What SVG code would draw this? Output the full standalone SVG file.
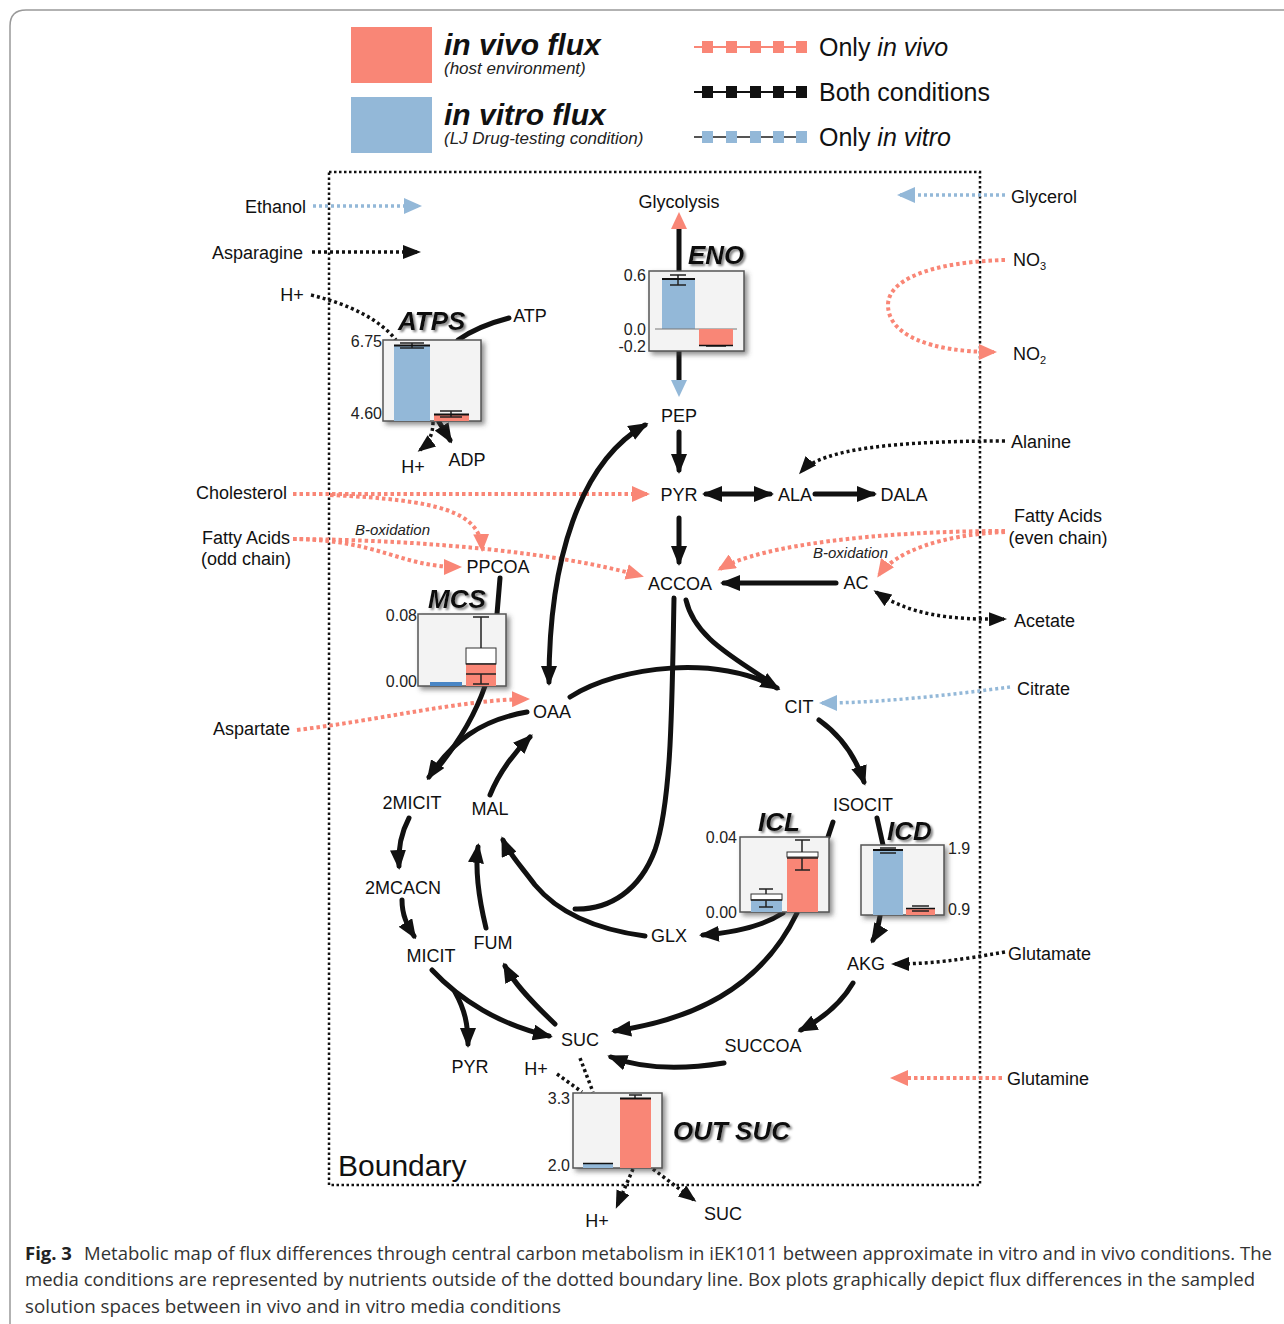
<svg xmlns="http://www.w3.org/2000/svg" width="1284" height="1324" viewBox="0 0 1284 1324">
<style>
.lbl{font-family:"Liberation Sans",Arial,sans-serif;font-size:18px;fill:#111}
.num{font-family:"Liberation Sans",Arial,sans-serif;font-size:16px;fill:#222}
.ttl{font-family:"Liberation Sans",Arial,sans-serif;font-size:26px;font-style:italic;font-weight:bold;fill:#111}
.thick{fill:none;stroke:#111;stroke-width:5;stroke-linecap:round}
.dk{fill:none;stroke:#111;stroke-width:3.5;stroke-dasharray:3 3}
.ds{fill:none;stroke:#F98676;stroke-width:4;stroke-dasharray:3.5 3}
.db{fill:none;stroke:#93B8D8;stroke-width:3.5;stroke-dasharray:3 3}
.box{fill:#F3F3F3;stroke:#555;stroke-width:1.5}
.bb{fill:#93B8D8}
.bs{fill:#F98676}
.wk{fill:none;stroke:#222;stroke-width:1.5}
.cap{font-family:"Open Sans","Liberation Sans",sans-serif;font-size:18.5px;fill:#333}
</style>
<defs>
<filter id="sh" x="-20%" y="-20%" width="150%" height="150%"><feDropShadow dx="3" dy="3" stdDeviation="2.5" flood-color="#444" flood-opacity="0.6"/></filter>
<filter id="tsh" x="-20%" y="-30%" width="150%" height="170%"><feDropShadow dx="2" dy="2" stdDeviation="1" flood-color="#777" flood-opacity="0.9"/></filter>
<marker id="ab" viewBox="0 0 20 16" refX="16" refY="8" markerWidth="20" markerHeight="16" markerUnits="userSpaceOnUse" orient="auto-start-reverse"><path d="M0,0 L20,8 L0,16 z" fill="#111"/></marker>
<marker id="ad" viewBox="0 0 18 14" refX="15" refY="7" markerWidth="18" markerHeight="14" markerUnits="userSpaceOnUse" orient="auto-start-reverse"><path d="M0,0 L18,7 L0,14 z" fill="#111"/></marker>
<marker id="as" viewBox="0 0 18 16" refX="15" refY="8" markerWidth="18" markerHeight="16" markerUnits="userSpaceOnUse" orient="auto-start-reverse"><path d="M0,0 L18,8 L0,16 z" fill="#F98676"/></marker>
<marker id="abl" viewBox="0 0 18 16" refX="15" refY="8" markerWidth="18" markerHeight="16" markerUnits="userSpaceOnUse" orient="auto-start-reverse"><path d="M0,0 L18,8 L0,16 z" fill="#93B8D8"/></marker>
</defs>
<rect width="1284" height="1324" fill="#fff"/>
<path d="M10,1324 V26 Q10,10 26,10 H1284" fill="none" stroke="#999" stroke-width="1.5"/>

<g id="legend">
<rect x="351" y="27" width="81" height="56" fill="#F98676"/>
<rect x="351" y="97" width="81" height="56" fill="#93B8D8"/>
<text x="444" y="55" style="font-family:'Liberation Sans',Arial,sans-serif;font-size:30px;font-weight:bold;font-style:italic" fill="#111">in vivo flux</text>
<text x="444" y="74" style="font-family:'Liberation Sans',Arial,sans-serif;font-size:17px;font-style:italic" fill="#222">(host environment)</text>
<text x="444" y="125" style="font-family:'Liberation Sans',Arial,sans-serif;font-size:30px;font-weight:bold;font-style:italic" fill="#111">in vitro flux</text>
<text x="444" y="144" style="font-family:'Liberation Sans',Arial,sans-serif;font-size:17px;font-style:italic" fill="#222">(LJ Drug-testing condition)</text>
<g fill="#F98676"><line x1="694" y1="47" x2="806" y2="47" stroke="#F98676" stroke-width="2"/><rect x="702" y="41" width="11" height="12"/><rect x="726" y="41" width="11" height="12"/><rect x="750" y="41" width="11" height="12"/><rect x="773" y="41" width="11" height="12"/><rect x="796" y="41" width="11" height="12"/></g>
<g fill="#111"><line x1="694" y1="92" x2="806" y2="92" stroke="#111" stroke-width="2"/><rect x="702" y="86" width="11" height="12"/><rect x="726" y="86" width="11" height="12"/><rect x="750" y="86" width="11" height="12"/><rect x="773" y="86" width="11" height="12"/><rect x="796" y="86" width="11" height="12"/></g>
<g fill="#93B8D8"><line x1="694" y1="137" x2="806" y2="137" stroke="#555" stroke-width="2"/><rect x="702" y="131" width="11" height="12"/><rect x="726" y="131" width="11" height="12"/><rect x="750" y="131" width="11" height="12"/><rect x="773" y="131" width="11" height="12"/><rect x="796" y="131" width="11" height="12"/></g>
<text x="819" y="56" style="font-family:'Liberation Sans',Arial,sans-serif;font-size:25px" fill="#111">Only <tspan font-style="italic">in vivo</tspan></text>
<text x="819" y="101" style="font-family:'Liberation Sans',Arial,sans-serif;font-size:25px" fill="#111">Both conditions</text>
<text x="819" y="146" style="font-family:'Liberation Sans',Arial,sans-serif;font-size:25px" fill="#111">Only <tspan font-style="italic">in vitro</tspan></text>
</g>

<g id="boundary">
<rect x="329" y="172" width="651" height="1013" fill="none" stroke="#111" stroke-width="2.5" stroke-dasharray="2.5 2.5"/>
<text x="338" y="1176" style="font-family:'Liberation Sans',Arial,sans-serif;font-size:30px" fill="#111">Boundary</text>
</g>

<g id="connectors">
<path class="db" d="M313,206 H419" marker-end="url(#abl)"/>
<path class="dk" d="M312,252 H418" marker-end="url(#ad)"/>
<path class="dk" d="M311,295 Q372,310 396,340"/>
<path class="db" d="M1005,195 H900" marker-end="url(#abl)"/>
<path class="ds" d="M1005,260 C930,262 888,280 888,305 C888,335 930,352 994,352" marker-end="url(#as)"/>
<path class="dk" d="M1005,441 C900,441 822,448 801,472" marker-end="url(#ad)"/>
<path class="ds" d="M293,494 H647" marker-end="url(#as)"/>
<path class="ds" d="M330,495 C440,500 480,512 482,549" marker-end="url(#as)"/>
<path class="ds" d="M293,539 C380,540 400,567 459,567" marker-end="url(#as)"/>
<path class="ds" d="M293,539 C430,540 560,553 641,576" marker-end="url(#as)"/>
<path class="ds" d="M1005,531 C880,531 760,545 720,569" marker-end="url(#as)"/>
<path class="ds" d="M1005,532 C940,535 895,552 879,575" marker-end="url(#as)"/>
<path class="dk" d="M876,592 C910,615 950,620 1004,619" marker-start="url(#ad)" marker-end="url(#ad)"/>
<path class="db" d="M1010,687 C950,695 880,703 822,703" marker-end="url(#abl)"/>
<path class="ds" d="M297,730 C380,720 460,700 527,699" marker-end="url(#as)"/>
<path class="dk" d="M1005,952 C960,960 930,964 894,964" marker-end="url(#ad)"/>
<path class="ds" d="M1002,1078 H893" marker-end="url(#as)"/>
<path class="thick" d="M509,318 Q478,326 458,340"/>
<path class="dk" d="M433,422 Q433,440 420,450" marker-end="url(#ad)"/>
<path class="thick" d="M439,422 L450,440" marker-end="url(#ab)"/>
<line x1="679" y1="228" x2="679" y2="271" stroke="#111" stroke-width="5"/>
<line x1="679" y1="351" x2="679" y2="381" stroke="#111" stroke-width="5"/>
<path d="M679,212 L671,229 L687,229 z" fill="#F98676"/>
<path d="M679,397 L671,380 L687,380 z" fill="#93B8D8"/>
<path class="thick" d="M679,432 V470" marker-end="url(#ab)"/>
<path class="thick" d="M706,494 H770" marker-start="url(#ab)" marker-end="url(#ab)"/>
<path class="thick" d="M815,494 H873" marker-end="url(#ab)"/>
<path class="thick" d="M679,518 V562" marker-end="url(#ab)"/>
<path class="thick" d="M836,583 H724" marker-end="url(#ab)"/>
<path class="thick" d="M549,682 C549,560 580,462 645,425" marker-start="url(#ab)" marker-end="url(#ab)"/>
<path class="thick" d="M570,697 C620,665 720,655 777,688" marker-end="url(#ab)"/>
<path class="thick" d="M686,600 C695,640 740,660 772,684"/>
<path class="thick" d="M674,598 C672,700 672,800 655,850 C640,890 610,910 575,909"/>
<path class="thick" d="M645,936 C600,930 560,915 535,885 C520,865 508,852 503,840" marker-end="url(#ab)"/>
<path class="thick" d="M490,795 C500,770 515,752 530,737" marker-end="url(#ab)"/>
<path class="thick" d="M527,712 C480,720 452,742 429,777" marker-end="url(#ab)"/>
<path class="thick" d="M485,686 C475,715 460,740 440,765"/>
<path class="thick" d="M500,578 L497,614"/>
<path class="thick" d="M409,818 C400,835 398,850 399,866" marker-end="url(#ab)"/>
<path class="thick" d="M402,900 C402,915 407,925 414,936" marker-end="url(#ab)"/>
<path class="thick" d="M432,970 C460,1000 500,1025 549,1036" marker-end="url(#ab)"/>
<path class="thick" d="M455,992 C465,1010 468,1025 468,1044" marker-end="url(#ab)"/>
<path class="thick" d="M555,1024 C535,1005 515,985 505,966" marker-end="url(#ab)"/>
<path class="thick" d="M486,928 C478,895 475,870 478,847" marker-end="url(#ab)"/>
<path class="thick" d="M819,720 C840,735 855,755 864,782" marker-end="url(#ab)"/>
<path class="thick" d="M833,822 L828,837"/>
<path class="thick" d="M877,818 L883,845"/>
<path class="thick" d="M783,913 C760,928 730,933 703,935" marker-end="url(#ab)"/>
<path class="thick" d="M797,913 C760,990 690,1020 615,1031" marker-end="url(#ab)"/>
<path class="thick" d="M880,916 C878,928 876,935 873,940" marker-end="url(#ab)"/>
<path class="thick" d="M853,983 C840,1005 820,1020 801,1030" marker-end="url(#ab)"/>
<path class="thick" d="M724,1063 C680,1070 640,1068 611,1057" marker-end="url(#ab)"/>
<path class="dk" d="M580,1058 L593,1092"/>
<path class="dk" d="M557,1074 L582,1092"/>
<path class="dk" d="M633,1169 L617,1206" marker-end="url(#ad)"/>
<path class="dk" d="M653,1169 L694,1200" marker-end="url(#ad)"/>
</g>

<g id="nutrients">
<text class="lbl" x="306" y="213" text-anchor="end">Ethanol</text>
<text class="lbl" x="303" y="259" text-anchor="end">Asparagine</text>
<text class="lbl" x="292" y="301" text-anchor="middle">H+</text>
<text class="lbl" x="287" y="499" text-anchor="end">Cholesterol</text>
<text class="lbl" x="246" y="544" text-anchor="middle">Fatty Acids</text>
<text class="lbl" x="246" y="565" text-anchor="middle">(odd chain)</text>
<text x="355" y="535" style="font-family:'Liberation Sans',Arial,sans-serif;font-size:15px;font-style:italic" fill="#222">B-oxidation</text>
<text class="lbl" x="290" y="735" text-anchor="end">Aspartate</text>
<text class="lbl" x="1011" y="203">Glycerol</text>
<text class="lbl" x="1013" y="266">NO<tspan font-size="11" dy="4">3</tspan></text>
<text class="lbl" x="1013" y="360">NO<tspan font-size="11" dy="4">2</tspan></text>
<text class="lbl" x="1011" y="448">Alanine</text>
<text class="lbl" x="1058" y="522" text-anchor="middle">Fatty Acids</text>
<text class="lbl" x="1058" y="544" text-anchor="middle">(even chain)</text>
<text x="813" y="558" style="font-family:'Liberation Sans',Arial,sans-serif;font-size:15px;font-style:italic" fill="#222">B-oxidation</text>
<text class="lbl" x="1014" y="627">Acetate</text>
<text class="lbl" x="1017" y="695">Citrate</text>
<text class="lbl" x="1008" y="960">Glutamate</text>
<text class="lbl" x="1007" y="1085">Glutamine</text>
</g>

<g id="metabolites" text-anchor="middle">
<text class="lbl" x="679" y="208">Glycolysis</text>
<text class="lbl" x="679" y="422">PEP</text>
<text class="lbl" x="679" y="501">PYR</text>
<text class="lbl" x="795" y="501">ALA</text>
<text class="lbl" x="904" y="501">DALA</text>
<text class="lbl" x="680" y="590">ACCOA</text>
<text class="lbl" x="856" y="589">AC</text>
<text class="lbl" x="498" y="573">PPCOA</text>
<text class="lbl" x="552" y="718">OAA</text>
<text class="lbl" x="799" y="713">CIT</text>
<text class="lbl" x="863" y="811">ISOCIT</text>
<text class="lbl" x="412" y="809">2MICIT</text>
<text class="lbl" x="490" y="815">MAL</text>
<text class="lbl" x="403" y="894">2MCACN</text>
<text class="lbl" x="431" y="962">MICIT</text>
<text class="lbl" x="493" y="949">FUM</text>
<text class="lbl" x="669" y="942">GLX</text>
<text class="lbl" x="866" y="970">AKG</text>
<text class="lbl" x="763" y="1052">SUCCOA</text>
<text class="lbl" x="580" y="1046">SUC</text>
<text class="lbl" x="470" y="1073">PYR</text>
<text class="lbl" x="536" y="1075">H+</text>
<text class="lbl" x="413" y="473">H+</text>
<text class="lbl" x="467" y="466">ADP</text>
<text class="lbl" x="530" y="322">ATP</text>
<text class="lbl" x="597" y="1227">H+</text>
<text class="lbl" x="723" y="1220">SUC</text>
</g>

<g id="ATPS">
<rect class="box" x="383" y="340" width="98" height="81" filter="url(#sh)"/>
<rect class="bb" x="394" y="345" width="36" height="76"/>
<rect class="bs" x="434" y="414" width="35" height="7"/>
<path class="wk" d="M400,343 H424 M400,348 H424 M412,343 V348 M440,411 H462 M440,417 H462 M451,411 V417"/>
<line x1="394" y1="345.5" x2="430" y2="345.5" stroke="#111" stroke-width="2"/>
<line x1="434" y1="414.5" x2="469" y2="414.5" stroke="#111" stroke-width="2"/>
<text class="ttl" x="398" y="330" filter="url(#tsh)">ATPS</text>
<text class="num" x="382" y="347" text-anchor="end">6.75</text>
<text class="num" x="382" y="419" text-anchor="end">4.60</text>
</g>

<g id="ENO">
<rect class="box" x="649" y="271" width="95" height="80" filter="url(#sh)"/>
<rect class="bb" x="662" y="278" width="33" height="51"/>
<line x1="655" y1="329" x2="737" y2="329" stroke="#777" stroke-width="1"/>
<rect class="bs" x="699" y="329" width="34" height="17"/>
<path class="wk" d="M670,275 H686 M670,285 H686 M678,275 V285 M706,346 H726"/>
<line x1="662" y1="279" x2="695" y2="279" stroke="#111" stroke-width="2"/>
<line x1="699" y1="345.5" x2="733" y2="345.5" stroke="#111" stroke-width="1.5"/>
<text class="ttl" x="688" y="264" filter="url(#tsh)">ENO</text>
<text class="num" x="646" y="281" text-anchor="end">0.6</text>
<text class="num" x="646" y="335" text-anchor="end">0.0</text>
<text class="num" x="646" y="352" text-anchor="end">-0.2</text>
</g>

<g id="MCS">
<rect class="box" x="418" y="614" width="88" height="72" filter="url(#sh)"/>
<rect x="430" y="682" width="32" height="4" fill="#4A86C5"/>
<rect x="466" y="648" width="30" height="16" fill="#fff" stroke="#333" stroke-width="1"/>
<rect class="bs" x="466" y="664" width="30" height="22"/>
<path class="wk" d="M473,617 H489 M481,617 V648 M466,664 H496 M466,674 H496 M481,674 V684 M473,684 H489"/>
<text class="ttl" x="428" y="608" filter="url(#tsh)">MCS</text>
<text class="num" x="417" y="621" text-anchor="end">0.08</text>
<text class="num" x="417" y="687" text-anchor="end">0.00</text>
</g>

<g id="ICL">
<rect class="box" x="740" y="837" width="89" height="75" filter="url(#sh)"/>
<rect class="bb" x="751" y="900" width="31" height="12"/>
<rect x="751" y="894" width="31" height="6" fill="#fff" stroke="#333" stroke-width="1"/>
<path class="wk" d="M759,889 H773 M766,889 V894 M766,900 V907 M759,907 H773 M751,900 H782"/>
<rect class="bs" x="787" y="852" width="31" height="60"/>
<rect x="787" y="852" width="31" height="5" fill="#fff" stroke="#333" stroke-width="1"/>
<path class="wk" d="M795,840 H810 M802,840 V852 M787,858 H818 M802,858 V870 M795,870 H810"/>
<text class="ttl" x="758" y="831" filter="url(#tsh)">ICL</text>
<text class="num" x="737" y="843" text-anchor="end">0.04</text>
<text class="num" x="737" y="918" text-anchor="end">0.00</text>
</g>

<g id="ICD">
<rect class="box" x="861" y="845" width="83" height="70" filter="url(#sh)"/>
<rect class="bb" x="873" y="849" width="30" height="66"/>
<rect class="bs" x="906" y="908" width="29" height="7"/>
<path class="wk" d="M880,848 H896 M880,853 H896 M912,906 H929 M912,911 H929"/>
<line x1="873" y1="850" x2="903" y2="850" stroke="#111" stroke-width="2"/>
<line x1="906" y1="908.5" x2="935" y2="908.5" stroke="#111" stroke-width="1.5"/>
<text class="ttl" x="887" y="840" filter="url(#tsh)">ICD</text>
<text class="num" x="948" y="854">1.9</text>
<text class="num" x="948" y="915">0.9</text>
</g>

<g id="OUTSUC">
<rect class="box" x="573" y="1093" width="89" height="75" filter="url(#sh)"/>
<rect class="bb" x="583" y="1163" width="30" height="5"/>
<line x1="583" y1="1163.5" x2="613" y2="1163.5" stroke="#111" stroke-width="1.5"/>
<rect class="bs" x="620" y="1098" width="31" height="70"/>
<path class="wk" d="M629,1095 H642 M635,1095 V1098"/>
<line x1="620" y1="1098.5" x2="651" y2="1098.5" stroke="#111" stroke-width="2"/>
<text class="ttl" x="673" y="1140" font-size="25" filter="url(#tsh)">OUT SUC</text>
<text class="num" x="570" y="1104" text-anchor="end">3.3</text>
<text class="num" x="570" y="1171" text-anchor="end">2.0</text>
</g>

<g id="caption">
<text class="cap" x="25" y="1260"><tspan font-weight="bold" fill="#222">Fig. 3</tspan></text>
<text class="cap" x="84" y="1260" textLength="1188" lengthAdjust="spacingAndGlyphs">Metabolic map of flux differences through central carbon metabolism in iEK1011 between approximate in vitro and in vivo conditions. The</text>
<text class="cap" x="25" y="1286" textLength="1230" lengthAdjust="spacingAndGlyphs">media conditions are represented by nutrients outside of the dotted boundary line. Box plots graphically depict flux differences in the sampled</text>
<text class="cap" x="25" y="1313" textLength="536" lengthAdjust="spacingAndGlyphs">solution spaces between in vivo and in vitro media conditions</text>
</g>
</svg>
